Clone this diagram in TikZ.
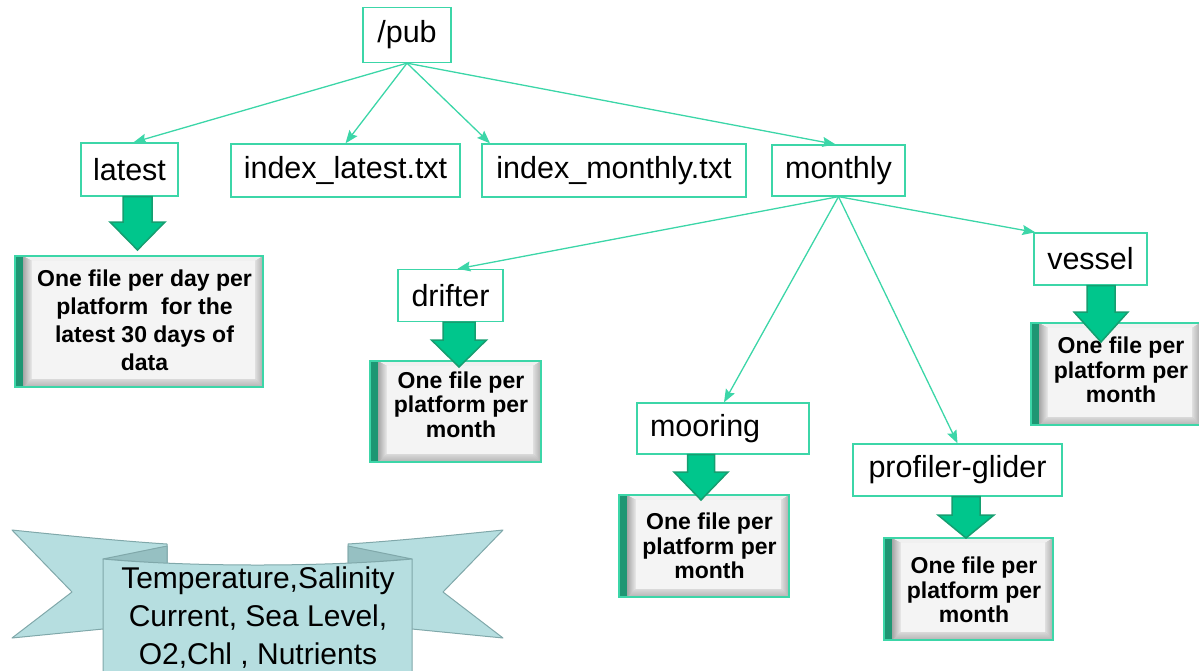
\documentclass[tikz,border=0pt]{standalone}
\usepackage{fontspec}
\setmainfont{Liberation Sans}
\usetikzlibrary{arrows.meta,calc}

\definecolor{conn}{RGB}{60,214,168}
\definecolor{arrowfill}{RGB}{0,198,140}
\definecolor{arrowedge}{RGB}{22,158,112}
\definecolor{barGreen}{RGB}{30,150,115}
\definecolor{faceGrey}{RGB}{244,244,244}
\definecolor{bannerFill}{RGB}{182,222,224}
\definecolor{bannerFold}{RGB}{150,192,194}
\definecolor{bannerEdge}{RGB}{128,168,170}

\tikzset{
  lbl/.style={draw=conn, line width=1.3pt, fill=white, inner sep=0pt,
    font=\fontsize{30.5}{34}\selectfont},
  link/.style={draw=conn, line width=1.3pt,
    -{Stealth[length=13pt,width=10pt,inset=2pt]}},
  resulttext/.style={inner sep=0pt, align=center},
  blockarrow/.style={fill=arrowfill, draw=arrowedge, line width=1.5pt, line join=miter},
  banner/.style={fill=bannerFill, draw=bannerEdge, line width=1pt, line join=round},
  bannerfold/.style={fill=bannerFold, draw=bannerEdge, line width=1pt, line join=round},
}

% bevelled result panel: #1 name, (#2,#3) top-left, (#4,#5) bottom-right,
% #6 vertical text offset, #7 font, #8 text
\newcommand\resultbox[8]{%
  \path (#2,#3) coordinate (#1-nw) (#4,#5) coordinate (#1-se);
  \fill[gray!55] (#2+8,#3) rectangle (#4,#5);
  \fill[gray!12] (#2+8,#3) -- (#4,#3) -- (#4-8,#3+5) -- (#2+17,#3+5) -- cycle;
  \shade[left color=gray!25, right color=gray!65] (#4,#3) -- (#4,#5) -- (#4-8,#5-8) -- (#4-8,#3+5) -- cycle;
  \shade[top color=gray!30, bottom color=gray!60] (#2+8,#5) -- (#4,#5) -- (#4-8,#5-8) -- (#2+17,#5-8) -- cycle;
  \shade[left color=gray!70, right color=gray!15] (#2+8,#3) -- (#2+17,#3+5) -- (#2+17,#5-8) -- (#2+8,#5) -- cycle;
  \fill[faceGrey] (#2+17,#3+5) rectangle (#4-8,#5-8);
  \fill[barGreen] (#2,#3) rectangle (#2+8,#5);
  \draw[conn, line width=1.2pt] (#2,#3) rectangle (#4,#5);
  \node[resulttext, font=#7] (#1) at ({(#2+#4+9)/2+1},{(#3+#5)/2+#6}) {#8};
}

% block arrow from a start point down to the top edge of a panel:
% #1 start, #2 panel corner, #3 tip shift, #4 head length, #5 shaft half width, #6 head half width
\newcommand\blockarrow[6]{%
  \path #1 coordinate (ba-s);
  \path (ba-s |- #2) ++(0,#3) coordinate (ba-t);
  \filldraw[blockarrow] let \p1=(ba-s), \p2=(ba-t) in
    (\x1-#5pt,\y1) -- (\x1-#5pt,\y2+#4pt) -- (\x1-#6pt,\y2+#4pt) -- (\x2,\y2)
    -- (\x1+#6pt,\y2+#4pt) -- (\x1+#5pt,\y2+#4pt) -- (\x1+#5pt,\y1) -- cycle;
}

\begin{document}
\begin{tikzpicture}[x=1pt,y=-1pt]
\useasboundingbox (0,0) rectangle (1199,670);

% directory nodes
\node[lbl, minimum width=88pt, minimum height=55pt] (pub) at (407,35) {/pub};
\node[lbl, minimum width=97pt, minimum height=53pt] (latest) at (129.5,169.5) {latest};
\node[lbl, minimum width=229pt, minimum height=53pt] (idxl) at (345.5,170.5) {index\_latest.txt};
\node[lbl, minimum width=264pt, minimum height=53pt] (idxm) at (614,170.5) {index\_monthly.txt};
\node[lbl, minimum width=133pt, minimum height=51pt] (monthly) at (838.5,170.5) {monthly};
\node[lbl, minimum width=105pt, minimum height=52pt] (drifter) at (450.5,295.5) {drifter};
\node[lbl, minimum width=113pt, minimum height=52pt] (vessel) at (1090.5,259) {vessel};
\node[lbl, minimum height=51pt, text width=146pt, inner xsep=13pt, align=left] (mooring) at (723,428.5) {mooring};
\node[lbl, minimum width=209pt, minimum height=52pt] (profiler) at (957.5,470) {profiler-glider};

% tree links
\draw[link] (pub.south) -- ([xshift=4pt]latest.north);
\draw[link] (pub.south) -- (idxl.north);
\draw[link] (pub.south) -- ([xshift=-124pt]idxm.north);
\draw[link] (pub.south) -- ([xshift=-3pt]monthly.north);
\draw[link] (monthly.south) -- ([xshift=7pt]drifter.north);
\draw[link] (monthly.south) -- ([xshift=1pt]mooring.north);
\draw[link] (monthly.south) -- (profiler.north);
\draw[link] (monthly.south) -- ([xshift=2pt]vessel.north west);

% content panels
\resultbox{rl}{15}{256}{263}{387}{-1}{\bfseries\fontsize{23}{28}\selectfont}%
  {One file per day per\\platform \ for the\\latest 30 days of\\data}
\resultbox{rd}{370}{361}{541}{462}{-7}{\bfseries\fontsize{23}{24.5}\selectfont}%
  {One file per\\platform per\\month}
\resultbox{rv}{1031}{323}{1200}{425}{-4}{\bfseries\fontsize{23}{24.5}\selectfont}%
  {One file per\\platform per\\month}
\resultbox{rm}{619}{495}{789}{597}{0}{\bfseries\fontsize{23}{24.5}\selectfont}%
  {One file per\\platform per\\month}
\resultbox{rp}{884}{538}{1053}{640}{1}{\bfseries\fontsize{23}{24.5}\selectfont}%
  {One file per\\platform per\\month}

% block arrows
\blockarrow{([xshift=8pt]latest.south)}{rl-nw}{-6}{28}{14.5}{27.5}
\blockarrow{([xshift=8.5pt]drifter.south)}{rd-nw}{6}{27}{16}{27.5}
\blockarrow{([xshift=10.5pt]vessel.south)}{rv-nw}{19}{30}{14}{27}
\blockarrow{([xshift=-22pt]mooring.south)}{rm-nw}{5}{28}{13.5}{27}
\blockarrow{([xshift=8.5pt]profiler.south)}{rp-nw}{0}{23}{14}{28}

% ribbon banner
\path[banner] (12,530) .. controls (60,535) and (120,541) .. (167,544)
  -- (167,625) -- (103,629) -- (12,638) -- (72,592) -- cycle;
\path[banner] (503,530) .. controls (455,535) and (395,541) .. (348,544)
  -- (348,625) -- (412,629) -- (503,638) -- (443,592) -- cycle;
\path[bannerfold] (103,559) -- (167,546) -- (167,564) -- cycle;
\path[bannerfold] (412,559) -- (348,546) -- (348,564) -- cycle;
\path[banner] (103,559) .. controls (190,567) and (325,567) .. (412,559)
  -- (412,672) -- (103,672) -- cycle;
\node[inner sep=0pt, align=center, anchor=base, font=\fontsize{30}{38}\selectfont]
  (params) at (258,664) {Temperature,Salinity\\Current, Sea Level,\\O2,Chl , Nutrients};
\end{tikzpicture}
\end{document}
